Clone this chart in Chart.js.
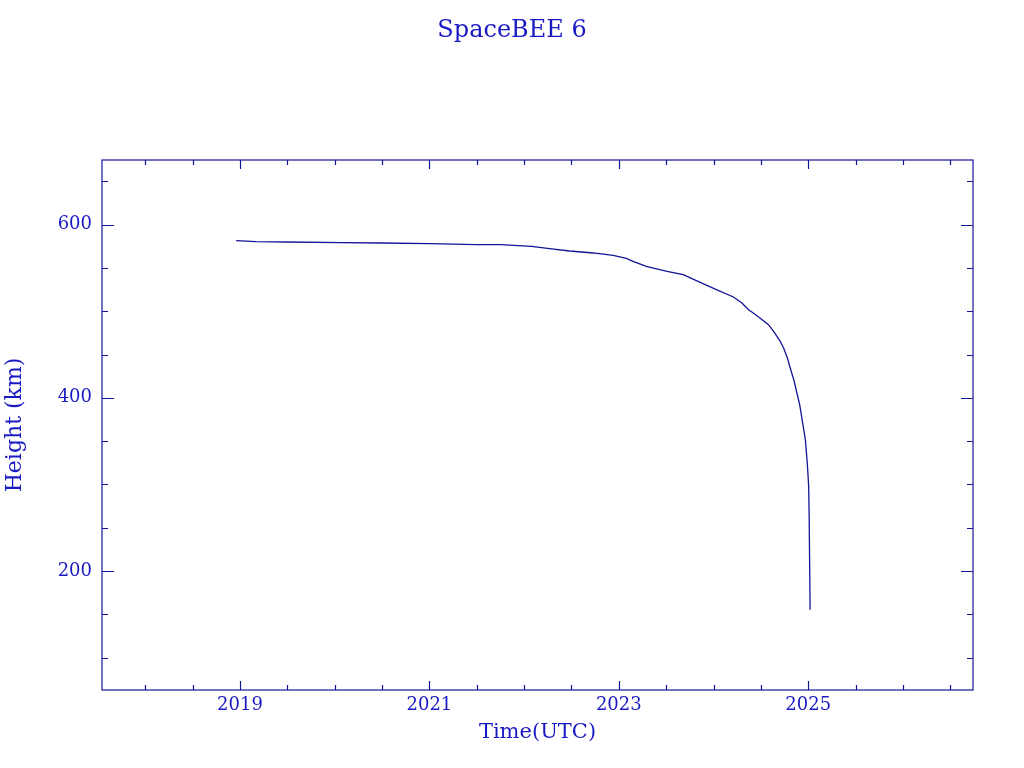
<!DOCTYPE html>
<html>
<head>
<meta charset="utf-8">
<script src="https://cdn.jsdelivr.net/npm/chart.js@4"></script>
<style>
body{margin:0;background:#fff;}
canvas{display:block;}
</style>
</head>
<body>
<canvas id="grafico" width="1024" height="768"></canvas>
<script>
// datos
const titulo="SpaceBEE 6";
const anios=[2018.96,2019.17,2019.5,2020.07,2020.5,2021.0,2021.5,2021.75,2022.08,2022.29,2022.48,2022.73,2022.94,2023.08,2023.15,2023.29,2023.51,2023.68,2023.86,2024.03,2024.21,2024.30,2024.37,2024.42,2024.49,2024.58,2024.64,2024.70,2024.74,2024.78,2024.81,2024.85,2024.88,2024.91,2024.93,2024.95,2024.97,2024.99,2025.005,2025.01,2025.02];
const alturas=[581.5,580.4,580,579.2,578.8,578,577,576.9,575,572,569.6,567.3,564.6,561,557.6,551.8,546,542.2,533.4,524.9,516.5,509.6,501.8,498,492.2,484.5,476,466,457.6,446,434.5,420,405.6,392,378.6,365,351.7,324.7,297.7,263,155.3];
const xEtiquetas=[2019,2021,2023,2025];
const yEtiquetas=[200,400,600];

const linea="#141496";
const texto="#1a1ac4";
const fuente="'DejaVu Serif', serif";

// marcas hacia dentro en los cuatro lados
const marcas={
  id:"marcas",
  afterDraw(chart){
    const {ctx,chartArea:a,scales:{x,y}}=chart;
    ctx.save();
    ctx.strokeStyle=linea;
    ctx.lineWidth=1.2;
    ctx.strokeRect(a.left,a.top,a.right-a.left,a.bottom-a.top);
    ctx.beginPath();
    for(let v=Math.ceil(x.min*2)/2;v<=x.max;v+=0.5){
      const px=Math.round(x.getPixelForValue(v))+0.5;
      const l=xEtiquetas.includes(v)?9:5;
      ctx.moveTo(px,a.bottom);ctx.lineTo(px,a.bottom-l);
      ctx.moveTo(px,a.top);ctx.lineTo(px,a.top+l);
    }
    for(let v=Math.ceil(y.min/50)*50;v<=y.max;v+=50){
      const py=Math.round(y.getPixelForValue(v))+0.5;
      const l=yEtiquetas.includes(v)?12:6;
      ctx.moveTo(a.left,py);ctx.lineTo(a.left+l,py);
      ctx.moveTo(a.right,py);ctx.lineTo(a.right-l,py);
    }
    ctx.stroke();
    ctx.restore();
  }
};

new Chart(document.getElementById("grafico"),{
  type:"line",
  data:{
    datasets:[{
      data:anios.map((a,i)=>({x:a,y:alturas[i]})),
      borderColor:linea,
      borderWidth:1.3,
      pointRadius:0,
      tension:0,
      fill:false
    }]
  },
  options:{
    responsive:false,
    animation:false,
    devicePixelRatio:1,
    layout:{padding:0},
    plugins:{
      legend:{display:false},
      tooltip:{enabled:false},
      title:{
        display:true,
        text:titulo,
        color:texto,
        font:{family:fuente,size:24,weight:"normal"},
        padding:{top:16,bottom:160-16-28.8}
      }
    },
    scales:{
      x:{
        type:"linear",
        min:2017.543,
        max:2026.74,
        afterFit(s){s.height=78;},
        afterBuildTicks(s){s.ticks=xEtiquetas.map(v=>({value:v}));},
        grid:{display:false,drawTicks:false},
        border:{display:false},
        ticks:{color:texto,font:{family:fuente,size:18},padding:5,maxRotation:0,callback:v=>String(v)},
        title:{display:true,text:"Time(UTC)",color:texto,font:{family:fuente,size:21},padding:{top:0,bottom:23}}
      },
      y:{
        type:"linear",
        min:62.5,
        max:674.7,
        afterFit(s){s.width=102;},
        afterBuildTicks(s){s.ticks=yEtiquetas.map(v=>({value:v}));},
        grid:{display:false,drawTicks:false},
        border:{display:false},
        ticks:{color:texto,font:{family:fuente,size:18},padding:10,callback:v=>String(v)},
        title:{display:true,text:"Height (km)",color:texto,font:{family:fuente,size:22},padding:{top:2,bottom:0}}
      },
      derecha:{
        type:"linear",
        position:"right",
        min:62.5,
        max:674.7,
        afterFit(s){s.width=51;},
        grid:{display:false,drawTicks:false},
        border:{display:false},
        ticks:{display:false}
      }
    }
  },
  plugins:[marcas]
});
</script>
</body>
</html>
